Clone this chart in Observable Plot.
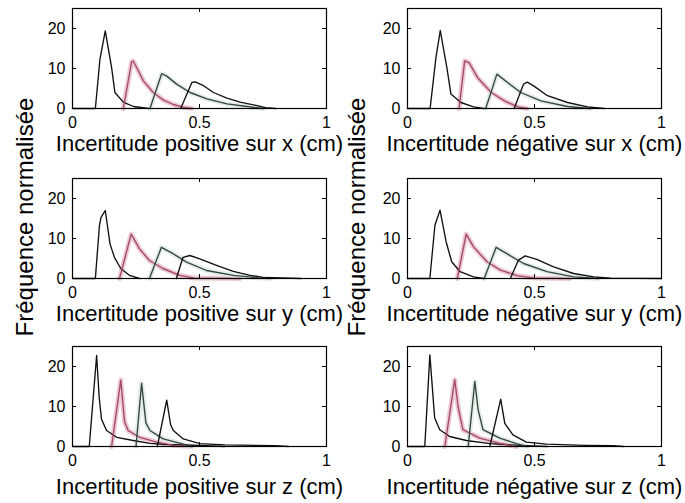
<!DOCTYPE html>
<html><head><meta charset="utf-8">
<script src="https://cdn.jsdelivr.net/npm/d3@7"></script>
<script src="https://cdn.jsdelivr.net/npm/@observablehq/plot@0.6"></script>
<style>
html,body{margin:0;padding:0;background:#fff;}
#chart{position:relative;width:685px;height:503px;overflow:hidden;background:#fff;}
#chart > div, #chart > svg, #chart > figure{position:absolute;margin:0;}
</style></head>
<body><div id="chart"></div>
<script>
// ---- data (x in cm, y = normalised frequency) ----
const xTicks = [0, 0.5, 1];
const yTicks = [0, 10, 20];
const yLabel = "Fréquence normalisée";
const xLabels = [
  "Incertitude positive sur x (cm)", "Incertitude négative sur x (cm)",
  "Incertitude positive sur y (cm)", "Incertitude négative sur y (cm)",
  "Incertitude positive sur z (cm)", "Incertitude négative sur z (cm)"
];
const posX = [
  [[0,0],[0.09,0],[0.108,12.3],[0.129,19.4],[0.154,10.2],[0.167,4.0],[0.2,1.6],[0.24,0.5],[0.3,0]],
  [[0.2,0],[0.233,11.7],[0.239,11.85],[0.253,10.2],[0.279,6.9],[0.318,4.0],[0.358,2.1],[0.397,1.0],[0.437,0.3],[0.47,0]],
  [[0.305,0],[0.351,8.7],[0.371,8.1],[0.41,6.1],[0.463,4.0],[0.529,2.4],[0.608,1.15],[0.687,0.5],[0.75,0]],
  [[0.426,0],[0.47,6.5],[0.483,6.67],[0.516,5.7],[0.555,4.0],[0.608,2.6],[0.66,1.6],[0.726,0.74],[0.76,0.2],[0.8,0]]
];
const negX = [
  [[0,0],[0.089,0],[0.112,12.7],[0.129,19.5],[0.155,10.2],[0.171,3.6],[0.21,1.5],[0.26,0.4],[0.3,0]],
  [[0.203,0],[0.225,11.9],[0.243,11.4],[0.276,7.7],[0.33,4.0],[0.382,1.9],[0.434,0.4],[0.47,0]],
  [[0.308,0],[0.352,8.6],[0.394,6.5],[0.446,4.0],[0.525,1.9],[0.63,0.5],[0.72,0]],
  [[0.42,0],[0.457,6.1],[0.472,6.6],[0.498,5.6],[0.551,3.2],[0.63,1.5],[0.709,0.4],[0.775,0]]
];
const posY = [
  [[0,0],[0.09,0],[0.106,13.2],[0.112,15.2],[0.129,17.0],[0.148,8.6],[0.165,5.3],[0.19,2.5],[0.224,0.8],[0.264,0]],
  [[0.185,0],[0.231,11.1],[0.264,7.4],[0.303,4.5],[0.356,2.5],[0.422,0.8],[0.48,0.1],[0.66,0]],
  [[0.303,0],[0.35,7.8],[0.396,6.2],[0.449,4.1],[0.528,2.0],[0.633,0.8],[0.74,0.1],[0.78,0]],
  [[0.409,0],[0.435,5.3],[0.462,5.75],[0.501,4.9],[0.567,3.3],[0.633,1.8],[0.699,0.8],[0.75,0.3],[0.9,0]]
];
const negY = [
  [[0,0],[0.088,0],[0.108,13.3],[0.128,17.1],[0.152,9.2],[0.174,4.2],[0.207,1.7],[0.26,0.4],[0.3,0]],
  [[0.196,0],[0.231,11.1],[0.26,7.9],[0.313,4.2],[0.366,2.1],[0.431,0.7],[0.5,0.1],[0.64,0]],
  [[0.302,0],[0.349,7.8],[0.391,6.2],[0.457,3.75],[0.549,1.7],[0.654,0.4],[0.75,0]],
  [[0.405,0],[0.437,4.6],[0.463,5.65],[0.509,4.8],[0.575,2.9],[0.654,1.25],[0.733,0.4],[0.8,0.1],[1,0]]
];
const posZ = [
  [[0,0],[0.066,0],[0.095,22.75],[0.105,12.3],[0.114,6.9],[0.134,4.0],[0.174,2.3],[0.239,1.5],[0.305,0.8],[0.37,0.5],[0.5,0.25],[0.6,0]],
  [[0.154,0],[0.19,16.6],[0.205,6.2],[0.219,4.0],[0.265,2.3],[0.331,1.1],[0.4,0.3],[0.47,0]],
  [[0.25,0],[0.272,15.8],[0.289,5.9],[0.305,4.0],[0.357,1.9],[0.425,0.8],[0.47,0]],
  [[0.334,0],[0.371,11.6],[0.386,5.5],[0.397,4.0],[0.436,1.9],[0.502,0.7],[0.6,0.4],[0.8,0.2],[0.85,0]]
];
const negZ = [
  [[0,0],[0.068,0],[0.088,22.9],[0.107,7.1],[0.127,4.2],[0.166,2.5],[0.232,1.5],[0.324,0.7],[0.44,0.3],[0.55,0]],
  [[0.147,0],[0.186,16.7],[0.199,10],[0.218,4.2],[0.284,2.1],[0.363,0.8],[0.43,0]],
  [[0.239,0],[0.265,16.25],[0.278,9.2],[0.297,4.2],[0.363,2.1],[0.429,0.7],[0.47,0]],
  [[0.324,0],[0.367,11.85],[0.383,5.8],[0.415,2.9],[0.468,1.1],[0.547,0.6],[0.7,0.3],[0.81,0.2],[0.85,0]]
];
const curveColors = ["#111111", "#a24a68", "#34463c", "#111111"];
const haloColors  = [null, "#e9bccb", "#dfe9e2", null];

// ---- layout ----
const FONT = "'Liberation Sans', Arial, Helvetica, sans-serif";
const panels = [posX, negX, posY, negY, posZ, negZ];
const colLeft = [0, 340], colWidth = [340, 345], colML = [72, 67], colMR = [14, 24];
const rowTop = [0, 170, 338], labelDy = [42, 42, 47];
const H = 160, MT = 8, MB = 52;
const chart = document.getElementById("chart");

panels.forEach((curves, i) => {
  const col = i % 2, row = Math.floor(i / 2);
  const W = colWidth[col], ML = colML[col], MR = colMR[col];
  const fw = W - ML - MR, fh = H - MT - MB;
  const marks = [];
  curves.forEach((c, k) => {
    if (haloColors[k]) marks.push(Plot.line(c, {x: d => d[0], y: d => d[1], stroke: haloColors[k], strokeWidth: 5, strokeOpacity: 0.8}));
  });
  curves.forEach((c, k) => {
    marks.push(Plot.line(c, {x: d => d[0], y: d => d[1], stroke: curveColors[k], strokeWidth: 1.35}));
  });
  marks.push(
    Plot.ruleX(xTicks, {stroke: "black", insetTop: fh - 4}),
    Plot.ruleX(xTicks, {stroke: "black", insetBottom: fh - 4}),
    Plot.ruleY(yTicks, {stroke: "black", insetRight: fw - 4}),
    Plot.ruleY(yTicks, {stroke: "black", insetLeft: fw - 4}),
    Plot.frame({stroke: "black", strokeWidth: 1.2}),
    Plot.text([xLabels[i]], {text: d => d, frameAnchor: "bottom", dy: labelDy[row], lineAnchor: "bottom", fontSize: 22, fill: "black"})
  );
  const p = Plot.plot({
    width: W, height: H, marginTop: MT, marginBottom: MB, marginLeft: ML, marginRight: MR,
    style: {fontFamily: FONT, fontSize: "16px", color: "black", background: "transparent", overflow: "visible"},
    x: {domain: [0, 1], ticks: xTicks, tickFormat: d => String(d), tickSize: 0, tickPadding: 8, label: null},
    y: {domain: [0, 25], ticks: yTicks, tickFormat: d => String(d), tickSize: 0, tickPadding: 7, label: null},
    marks
  });
  // make the tick labels the size of the original figure's
  d3.select(p).selectAll("text")
    .filter(function() { return !xLabels.includes(this.textContent); })
    .style("font-size", "16px").style("font-family", FONT);
  p.style.position = "absolute";
  p.style.left = colLeft[col] + "px";
  p.style.top = rowTop[row] + "px";
  chart.appendChild(p);
});

// shared y labels (one per column, as in the original figure)
const ov = d3.select(chart).append("svg")
  .attr("width", 685).attr("height", 503)
  .style("position", "absolute").style("left", "0px").style("top", "0px")
  .style("pointer-events", "none").style("overflow", "visible");
[33, 365].forEach(bx => {
  ov.append("text")
    .attr("transform", `translate(${bx},217) rotate(-90)`)
    .attr("text-anchor", "middle")
    .attr("font-family", FONT).attr("font-size", 24).attr("fill", "black")
    .text(yLabel);
});
</script>
</body></html>
